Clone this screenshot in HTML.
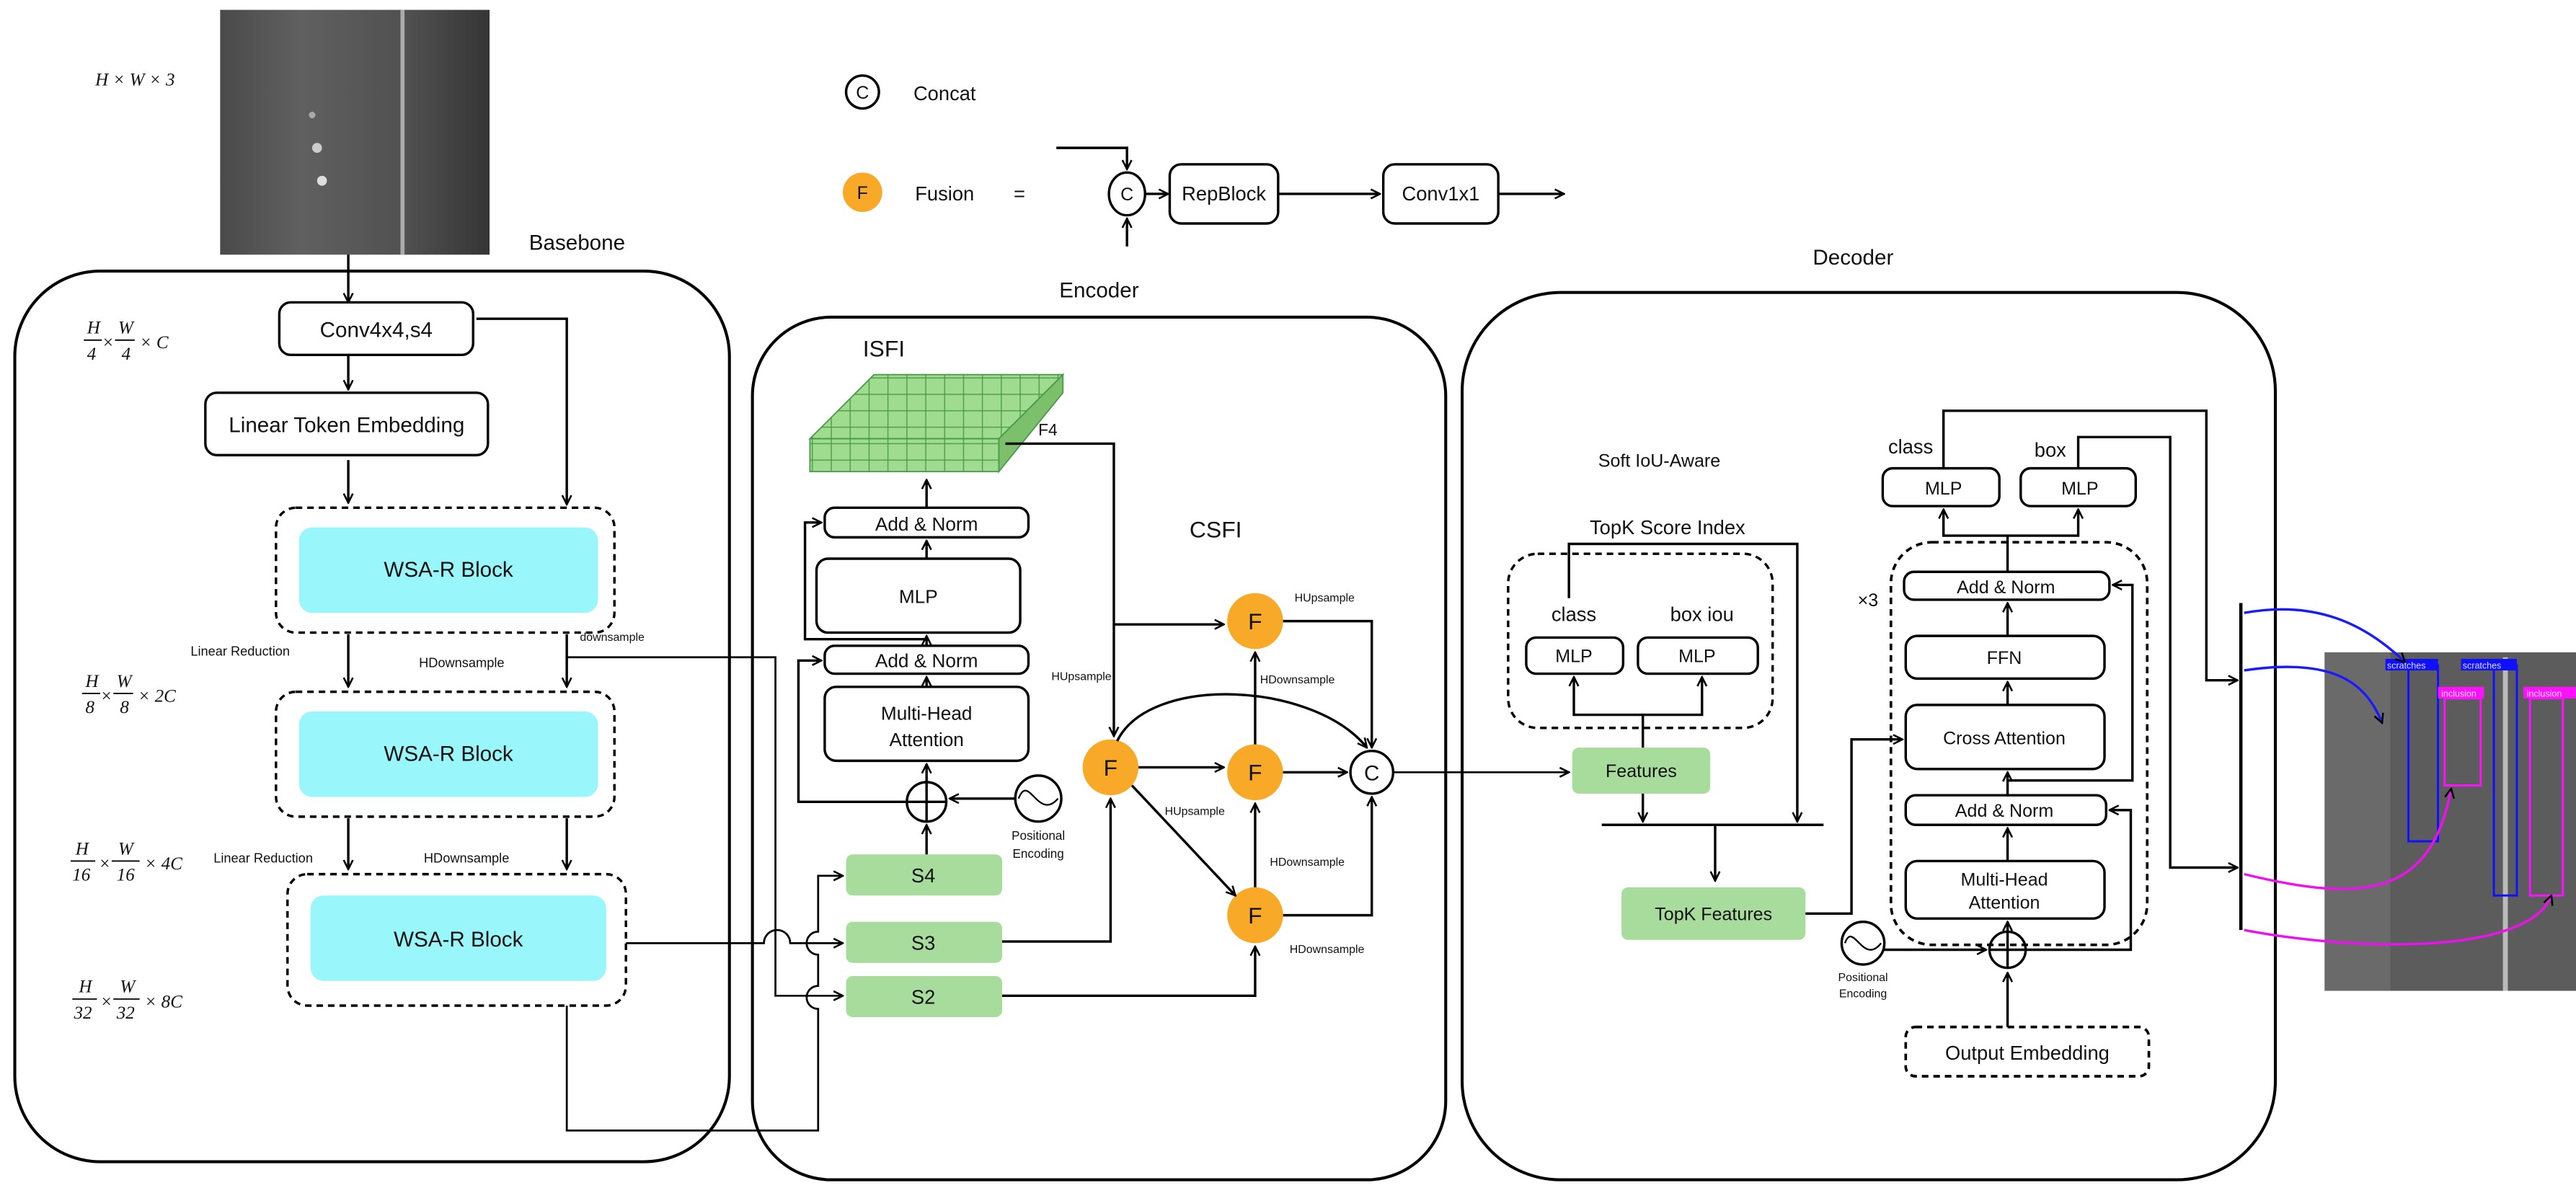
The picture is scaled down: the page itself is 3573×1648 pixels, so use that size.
<!DOCTYPE html>
<html><head><meta charset="utf-8"><style>
html,body{margin:0;padding:0;background:#fff}
svg{display:block}
text{font-family:"Liberation Sans",sans-serif;fill:#111}
.m{font-family:"Liberation Serif",serif;font-style:italic}
.s{font-size:7px}
</style></head><body>
<svg width="3573" height="1648" viewBox="0 0 1568 723" preserveAspectRatio="none" xmlns="http://www.w3.org/2000/svg">
<defs>
<marker id="a" viewBox="0 0 10 10" refX="9" refY="5" markerWidth="7" markerHeight="7" orient="auto-start-reverse" markerUnits="userSpaceOnUse">
<path d="M1,1 L9,5 L1,9" fill="none" stroke="#000" stroke-width="1.6"/></marker>
<linearGradient id="g1" x1="0" x2="1"><stop offset="0" stop-color="#4a4a4a"/><stop offset="0.3" stop-color="#606060"/><stop offset="0.7" stop-color="#505050"/><stop offset="1" stop-color="#353535"/></linearGradient>
<pattern id="grid" width="11.5" height="10" patternUnits="userSpaceOnUse"><rect width="11.5" height="10" fill="#9fdc8f" stroke="#4a9a4a" stroke-width="0.6"/></pattern>
</defs>
<g fill="none" stroke="#000" stroke-width="1.5">

<rect x="134" y="6" width="164" height="149" fill="url(#g1)" stroke="none"/>
<line x1="245" y1="6" x2="245" y2="155" stroke="#aaa" stroke-width="2.5"/>
<circle cx="193" cy="90" r="3" fill="#ccc" stroke="none"/><circle cx="196" cy="110" r="3" fill="#ddd" stroke="none"/><circle cx="190" cy="70" r="2" fill="#aaa" stroke="none"/>

<rect x="9" y="165" width="435" height="542" rx="52" stroke-width="1.8"/>
<rect x="170" y="184" width="118" height="32" rx="7"/>
<rect x="125" y="239" width="172" height="38" rx="7"/>
<rect x="168" y="309" width="206" height="76" rx="12" stroke-dasharray="4,3"/>
<rect x="168" y="421" width="206" height="76" rx="12" stroke-dasharray="4,3"/>
<rect x="175" y="532" width="206" height="80" rx="12" stroke-dasharray="4,3"/>
<rect x="182" y="321" width="182" height="52" rx="8" fill="#99f7fb" stroke="none"/>
<rect x="182" y="433" width="182" height="52" rx="8" fill="#99f7fb" stroke="none"/>
<rect x="189" y="545" width="180" height="52" rx="8" fill="#99f7fb" stroke="none"/>
<path d="M212 155V184" marker-end="url(#a)"/>
<path d="M212 216V237" marker-end="url(#a)"/>
<path d="M212 280V306" marker-end="url(#a)"/>
<path d="M290 194H345V307" marker-end="url(#a)"/>
<path d="M212 386V418" marker-end="url(#a)"/>
<path d="M345 386V418" marker-end="url(#a)"/>
<path d="M212 498V529" marker-end="url(#a)"/>
<path d="M345 498V529" marker-end="url(#a)"/>
<path d="M345 400H472V606H513" marker-end="url(#a)" stroke-width="1.2"/>
<path d="M381 574H465A8 8 0 0 1 481 574H513" marker-end="url(#a)" stroke-width="1.2"/>
<path d="M345 612V688H498V614A6 6 0 0 1 498 600V581A6 6 0 0 1 498 567V533H513" marker-end="url(#a)" stroke-width="1.2"/>

<rect x="458" y="193" width="422" height="525" rx="48" stroke-width="1.8"/>
<polygon points="532,228 647,228 608,267 493,267" fill="url(#grid)" stroke="#4a9a4a" stroke-width="0.8"/>
<rect x="493" y="267" width="115" height="20" fill="url(#grid)" stroke="#4a9a4a" stroke-width="0.8"/>
<polygon points="608,267 647,228 647,239 608,287" fill="#7cc06c" stroke="#4a9a4a" stroke-width="0.8"/>
<rect x="502" y="309" width="124" height="18" rx="6"/>
<rect x="497" y="340" width="124" height="45" rx="7"/>
<rect x="502" y="393" width="124" height="17" rx="6"/>
<rect x="502" y="418" width="124" height="45" rx="7"/>
<circle cx="564" cy="488" r="12"/><path d="M552 488H576M564 476V500"/>
<circle cx="632" cy="486" r="14"/><path d="M620 486C626 470 632 500 644 486" stroke-width="1"/>
<rect x="515" y="520" width="95" height="25" rx="4" fill="#a8dc9c" stroke="none"/>
<rect x="515" y="561" width="95" height="25" rx="4" fill="#a8dc9c" stroke="none"/>
<rect x="515" y="594" width="95" height="25" rx="4" fill="#a8dc9c" stroke="none"/>
<path d="M564 520V502" marker-end="url(#a)"/>
<path d="M564 476V465" marker-end="url(#a)"/>
<path d="M564 418V412" marker-end="url(#a)"/>
<path d="M564 393V387" marker-end="url(#a)"/>
<path d="M564 340V329" marker-end="url(#a)"/>
<path d="M564 309V292" marker-end="url(#a)"/>
<path d="M618 486H578" marker-end="url(#a)"/>
<path d="M552 488H486V402H500" marker-end="url(#a)"/>
<path d="M564 389H490V318H500" marker-end="url(#a)"/>
<path d="M612 270H678V448" marker-end="url(#a)"/>
<path d="M678 380H745" marker-end="url(#a)"/>
<path d="M610 573H676V486" marker-end="url(#a)"/>
<path d="M610 606H764V576" marker-end="url(#a)"/>
<circle cx="676" cy="467" r="17" fill="#f8a927" stroke="none"/>
<circle cx="764" cy="378" r="17" fill="#f8a927" stroke="none"/>
<circle cx="764" cy="470" r="17" fill="#f8a927" stroke="none"/>
<circle cx="764" cy="557" r="17" fill="#f8a927" stroke="none"/>
<circle cx="835" cy="470" r="13" fill="#fff"/>
<path d="M693 467H745" marker-end="url(#a)"/>
<path d="M689 478L752 545" marker-end="url(#a)"/>
<path d="M764 540V489" marker-end="url(#a)"/>
<path d="M764 453V397" marker-end="url(#a)"/>
<path d="M781 470H820" marker-end="url(#a)"/>
<path d="M781 378H835V455" marker-end="url(#a)"/>
<path d="M781 557H835V485" marker-end="url(#a)"/>
<path d="M680 451C700 410 800 415 832 455" marker-end="url(#a)"/>
<path d="M848 470H955" marker-end="url(#a)" stroke-width="1.2"/>

<circle cx="525" cy="56" r="10"/>
<circle cx="525" cy="117" r="12" fill="#f8a927" stroke="none"/>
<ellipse cx="686" cy="118" rx="11" ry="13"/>
<path d="M643 90H686V103" marker-end="url(#a)"/>
<path d="M686 150V133" marker-end="url(#a)"/>
<path d="M697 118H711" marker-end="url(#a)"/>
<rect x="712" y="100" width="66" height="36" rx="7"/>
<path d="M778 118H840" marker-end="url(#a)"/>
<rect x="842" y="100" width="70" height="36" rx="7"/>
<path d="M912 118H952" marker-end="url(#a)"/>

<rect x="890" y="178" width="495" height="540" rx="60" stroke-width="1.8"/>
<rect x="918" y="337" width="161" height="106" rx="18" stroke-dasharray="4,3"/>
<rect x="929" y="388" width="59" height="22" rx="6"/>
<rect x="997" y="388" width="73" height="22" rx="6"/>
<rect x="957" y="455" width="84" height="28" rx="4" fill="#a8dc9c" stroke="none"/>
<rect x="987" y="540" width="112" height="32" rx="4" fill="#a8dc9c" stroke="none"/>
<path d="M1000 455V435H1036V412" marker-end="url(#a)"/>
<path d="M1000 435H958V412" marker-end="url(#a)"/>
<path d="M955 364V331H1094V500" marker-end="url(#a)"/>
<path d="M975 502H1110"/>
<path d="M1000 483V500" marker-end="url(#a)"/>
<path d="M1044 502V536" marker-end="url(#a)"/>
<path d="M1099 556H1127V450H1158" marker-end="url(#a)"/>
<rect x="1151" y="330" width="156" height="245" rx="25" stroke-dasharray="4,3" stroke-width="1.6"/>
<rect x="1159" y="348" width="125" height="17" rx="6"/>
<rect x="1160" y="387" width="121" height="26" rx="7"/>
<rect x="1160" y="429" width="121" height="39" rx="7"/>
<rect x="1160" y="484" width="122" height="18" rx="6"/>
<rect x="1160" y="524" width="121" height="35" rx="7"/>
<circle cx="1222" cy="578" r="11"/><path d="M1211 578H1233M1222 567V589"/>
<circle cx="1134" cy="574" r="13"/><path d="M1123 574C1128 560 1134 588 1145 574" stroke-width="1"/>
<rect x="1160" y="625" width="148" height="30" rx="6" stroke-dasharray="4,3" stroke-width="1.6"/>
<path d="M1222 625V592" marker-end="url(#a)"/>
<path d="M1147 578H1209" marker-end="url(#a)"/>
<path d="M1222 567V561" marker-end="url(#a)"/>
<path d="M1222 524V504" marker-end="url(#a)"/>
<path d="M1222 484V470" marker-end="url(#a)"/>
<path d="M1222 429V415" marker-end="url(#a)"/>
<path d="M1222 387V367" marker-end="url(#a)"/>
<path d="M1233 578H1297V493H1284" marker-end="url(#a)"/>
<path d="M1222 475H1298V356H1286" marker-end="url(#a)"/>
<path d="M1222 348V326H1183V310" marker-end="url(#a)"/>
<path d="M1222 326H1265V310" marker-end="url(#a)"/>
<rect x="1146" y="285" width="71" height="23" rx="6"/>
<rect x="1230" y="285" width="70" height="23" rx="6"/>
<path d="M1183 285V250H1343V414H1362" marker-end="url(#a)"/>
<path d="M1265 285V266H1321V528H1362" marker-end="url(#a)"/>
<path d="M1364 367V566" stroke-width="2"/>

<rect x="1415" y="397" width="153" height="206" fill="#5c5c5c" stroke="none"/>
<rect x="1415" y="397" width="40" height="206" fill="#6a6a6a" stroke="none"/>
<line x1="1525" y1="400" x2="1525" y2="603" stroke="#bbb" stroke-width="3"/>
<rect x="1466" y="405" width="18" height="107" stroke="#1010ff" stroke-width="1.3"/>
<rect x="1518" y="405" width="14" height="140" stroke="#1010ff" stroke-width="1.3"/>
<rect x="1488" y="425" width="22" height="53" stroke="#ff10ff" stroke-width="1.3"/>
<rect x="1540" y="425" width="20" height="120" stroke="#ff10ff" stroke-width="1.3"/>
<rect x="1452" y="401" width="32" height="7" fill="#1010ff" stroke="none"/>
<rect x="1498" y="401" width="34" height="7" fill="#1010ff" stroke="none"/>
<rect x="1484" y="418" width="28" height="7" fill="#ff10ff" stroke="none"/>
<rect x="1536" y="418" width="32" height="7" fill="#ff10ff" stroke="none"/>
<path d="M1366 373C1410 365 1440 380 1464 403" stroke="#1a1aff" stroke-width="1.5" marker-end="url(#a)"/>
<path d="M1366 408C1420 400 1440 415 1450 440" stroke="#1a1aff" stroke-width="1.5" marker-end="url(#a)"/>
<path d="M1366 532C1440 550 1480 545 1492 480" stroke="#ee10ee" stroke-width="1.5" marker-end="url(#a)"/>
<path d="M1366 566C1440 580 1540 580 1553 545" stroke="#ee10ee" stroke-width="1.5" marker-end="url(#a)"/>
</g>

<g font-size="13">
<text x="322" y="152">Basebone</text>
<text x="229" y="205" text-anchor="middle">Conv4x4,s4</text>
<text x="211" y="263" text-anchor="middle">Linear Token Embedding</text>
<text x="273" y="351" text-anchor="middle">WSA-R Block</text>
<text x="273" y="463" text-anchor="middle">WSA-R Block</text>
<text x="279" y="576" text-anchor="middle">WSA-R Block</text>
<text x="353" y="390" class="s">downsample</text>
<text x="116" y="399" font-size="8">Linear Reduction</text>
<text x="255" y="406" font-size="8">HDownsample</text>
<text x="130" y="525" font-size="8">Linear Reduction</text>
<text x="258" y="525" font-size="8">HDownsample</text>
</g>
<g font-size="11">
<text x="58" y="52" class="m">H × W × 3</text>
<text x="53" y="203" class="m">H</text><text x="53" y="219" class="m">4</text><text x="62" y="212" class="m">×</text><text x="72" y="203" class="m">W</text><text x="74" y="219" class="m">4</text><text x="85" y="212" class="m">× C</text>
<text x="52" y="418" class="m">H</text><text x="52" y="434" class="m">8</text><text x="61" y="427" class="m">×</text><text x="71" y="418" class="m">W</text><text x="73" y="434" class="m">8</text><text x="84" y="427" class="m">× 2C</text>
<text x="46" y="520" class="m">H</text><text x="44" y="536" class="m">16</text><text x="60" y="529" class="m">×</text><text x="72" y="520" class="m">W</text><text x="71" y="536" class="m">16</text><text x="88" y="529" class="m">× 4C</text>
<text x="48" y="604" class="m">H</text><text x="45" y="620" class="m">32</text><text x="61" y="613" class="m">×</text><text x="73" y="604" class="m">W</text><text x="71" y="620" class="m">32</text><text x="88" y="613" class="m">× 8C</text>
</g>
<g stroke="#000" stroke-width="0.8">
<line x1="51" y1="207" x2="62" y2="207"/><line x1="70" y1="207" x2="82" y2="207"/>
<line x1="50" y1="422" x2="61" y2="422"/><line x1="69" y1="422" x2="81" y2="422"/>
<line x1="43" y1="524" x2="58" y2="524"/><line x1="68" y1="524" x2="85" y2="524"/>
<line x1="44" y1="608" x2="59" y2="608"/><line x1="69" y1="608" x2="85" y2="608"/>
</g>

<g font-size="13">
<text x="669" y="181" text-anchor="middle">Encoder</text>
<text x="538" y="217" text-anchor="middle" font-size="14">ISFI</text>
<text x="632" y="265" font-size="10">F4</text>
<text x="564" y="323" text-anchor="middle" font-size="11.5">Add &amp; Norm</text>
<text x="559" y="367" text-anchor="middle" font-size="11.5">MLP</text>
<text x="564" y="406" text-anchor="middle" font-size="11.5">Add &amp; Norm</text>
<text x="564" y="438" text-anchor="middle" font-size="11.5">Multi-Head</text>
<text x="564" y="454" text-anchor="middle" font-size="11.5">Attention</text>
<text x="632" y="511" text-anchor="middle" font-size="7.5">Positional</text>
<text x="632" y="522" text-anchor="middle" font-size="7.5">Encoding</text>
<text x="562" y="537" text-anchor="middle" font-size="12">S4</text>
<text x="562" y="578" text-anchor="middle" font-size="12">S3</text>
<text x="562" y="611" text-anchor="middle" font-size="12">S2</text>
<text x="740" y="327" text-anchor="middle" font-size="14">CSFI</text>
<text x="788" y="366" class="s">HUpsample</text>
<text x="640" y="414" class="s">HUpsample</text>
<text x="767" y="416" class="s">HDownsample</text>
<text x="709" y="496" class="s">HUpsample</text>
<text x="773" y="527" class="s">HDownsample</text>
<text x="785" y="580" class="s">HDownsample</text>
<text x="676" y="472" text-anchor="middle" font-size="14">F</text>
<text x="764" y="383" text-anchor="middle" font-size="14">F</text>
<text x="764" y="475" text-anchor="middle" font-size="14">F</text>
<text x="764" y="562" text-anchor="middle" font-size="14">F</text>
<text x="835" y="475" text-anchor="middle">C</text>

<text x="525" y="60" text-anchor="middle" font-size="11">C</text>
<text x="556" y="61" font-size="12">Concat</text>
<text x="525" y="121" text-anchor="middle" font-size="11">F</text>
<text x="557" y="122" font-size="12">Fusion</text>
<text x="617" y="122" font-size="12">=</text>
<text x="686" y="122" text-anchor="middle" font-size="11">C</text>
<text x="745" y="122" text-anchor="middle" font-size="12">RepBlock</text>
<text x="877" y="122" text-anchor="middle" font-size="12">Conv1x1</text>

<text x="1128" y="161" text-anchor="middle">Decoder</text>
<text x="1010" y="284" text-anchor="middle" font-size="11">Soft IoU-Aware</text>
<text x="1015" y="325" text-anchor="middle" font-size="12">TopK Score Index</text>
<text x="958" y="378" text-anchor="middle" font-size="12">class</text>
<text x="1036" y="378" text-anchor="middle" font-size="12">box iou</text>
<text x="958" y="403" text-anchor="middle" font-size="11">MLP</text>
<text x="1033" y="403" text-anchor="middle" font-size="11">MLP</text>
<text x="999" y="473" text-anchor="middle" font-size="11">Features</text>
<text x="1043" y="560" text-anchor="middle" font-size="11">TopK Features</text>
<text x="1137" y="369" text-anchor="middle" font-size="11">×3</text>
<text x="1163" y="276" text-anchor="middle" font-size="12">class</text>
<text x="1248" y="278" text-anchor="middle" font-size="12">box</text>
<text x="1183" y="301" text-anchor="middle" font-size="11">MLP</text>
<text x="1266" y="301" text-anchor="middle" font-size="11">MLP</text>
<text x="1221" y="361" text-anchor="middle" font-size="11">Add &amp; Norm</text>
<text x="1220" y="404" text-anchor="middle" font-size="11">FFN</text>
<text x="1220" y="453" text-anchor="middle" font-size="11">Cross Attention</text>
<text x="1220" y="497" text-anchor="middle" font-size="11">Add &amp; Norm</text>
<text x="1220" y="539" text-anchor="middle" font-size="11">Multi-Head</text>
<text x="1220" y="553" text-anchor="middle" font-size="11">Attention</text>
<text x="1134" y="597" text-anchor="middle" font-size="7">Positional</text>
<text x="1134" y="607" text-anchor="middle" font-size="7">Encoding</text>
<text x="1234" y="645" text-anchor="middle" font-size="12">Output Embedding</text>
</g>
<g font-size="5.5">
<text x="1453" y="407" style="fill:#ddf">scratches</text>
<text x="1499" y="407" style="fill:#ddf">scratches</text>
<text x="1486" y="424" style="fill:#fdf">inclusion</text>
<text x="1538" y="424" style="fill:#fdf">inclusion</text>
</g>
</svg>
</body></html>
